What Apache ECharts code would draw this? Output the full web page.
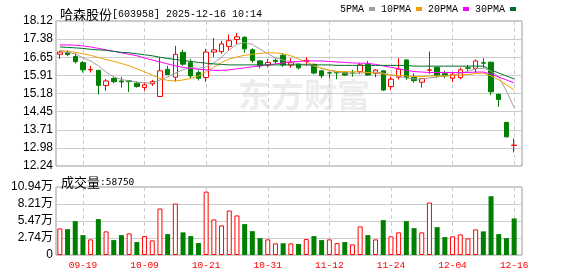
<!DOCTYPE html>
<html><head><meta charset="utf-8">
<script src="https://cdn.jsdelivr.net/npm/echarts@6/dist/echarts.min.js"></script>
<style>html,body{margin:0;padding:0;background:#fff}#c{width:578px;height:276px}</style>
</head><body><div id="c"></div>
<script>
const stockTitle = '哈森股份';
const stockInfo = '[603958] 2025-12-16 10:14';
const dates = ['09-16','09-17','09-18','09-19','09-22','09-23','09-24','09-25','09-26','09-29','09-30','10-09','10-10','10-13','10-14','10-15','10-16','10-17','10-20','10-21','10-22','10-23','10-24','10-27','10-28','10-29','10-30','10-31','11-03','11-04','11-05','11-06','11-07','11-10','11-11','11-12','11-13','11-14','11-17','11-18','11-19','11-20','11-21','11-24','11-25','11-26','11-27','11-28','12-01','12-02','12-03','12-04','12-05','12-08','12-09','12-10','12-11','12-12','12-15','12-16'];
const opens  = [16.77,16.84,16.68,16.43,16.14,16.12,15.50,15.79,15.69,15.70,15.60,15.42,15.57,15.06,16.16,15.84,16.85,16.43,16.03,15.83,16.86,16.88,17.09,17.37,17.46,16.95,16.50,16.33,16.52,16.73,16.33,16.37,16.48,16.36,16.10,16.02,16.03,16.04,16.01,16.07,16.36,16.00,16.10,15.46,15.84,16.54,15.84,15.64,16.12,16.24,15.98,15.80,15.82,16.22,16.20,16.43,16.45,15.15,14.01,13.07];
const closes = [16.86,16.76,16.47,16.14,16.15,15.51,15.69,15.66,15.65,15.66,15.46,15.53,15.67,16.10,15.95,16.77,16.37,15.89,15.80,16.86,16.95,17.19,17.32,17.48,16.99,16.52,16.30,16.44,16.48,16.34,16.43,16.22,16.53,16.01,15.90,16.01,16.02,15.93,16.00,16.34,15.93,16.13,15.32,15.76,16.17,15.82,15.70,15.79,16.14,15.92,15.90,15.96,16.14,16.20,16.50,16.41,15.25,14.94,13.42,13.09];
const lows   = [16.58,16.69,16.40,16.03,16.03,15.14,15.29,15.59,15.42,15.24,15.42,15.29,15.49,15.05,15.93,15.66,16.30,15.81,15.71,15.65,16.66,16.79,16.91,17.17,16.83,16.43,16.20,16.24,16.38,16.26,16.22,16.16,16.30,15.96,15.80,15.80,15.76,15.90,15.86,15.96,15.90,15.84,15.28,15.32,15.75,15.73,15.62,15.42,15.98,15.82,15.80,15.64,15.76,16.10,16.02,16.22,15.12,14.64,13.42,12.79];
const highs  = [16.91,16.93,16.81,16.50,16.30,16.14,15.77,15.87,15.85,15.71,15.65,15.63,15.73,16.66,16.30,17.11,16.95,16.57,16.12,16.99,17.43,17.32,17.57,17.63,17.50,17.02,16.54,16.58,16.60,16.79,16.61,16.42,16.66,16.40,16.14,16.07,16.08,16.07,16.14,16.41,16.50,16.17,16.12,15.86,16.61,16.57,16.00,15.80,16.88,16.27,16.10,16.04,16.23,16.34,16.56,16.61,16.47,15.17,14.01,13.36];
const volumes = [42800,41600,54500,32000,25100,57700,38000,24000,32000,34800,20800,30400,23500,74800,33600,82800,36400,30400,19200,102000,57200,47600,71600,63600,49700,38400,27200,25100,18700,18900,18700,17600,25600,30400,24000,25100,19200,20800,17100,46000,32000,25100,56100,30000,36400,54500,43200,36400,84400,44800,28800,30000,33200,26700,41200,38000,94500,33600,27200,58750];
const ma5  = [16.87,16.85,16.79,16.62,16.50,16.30,16.05,15.85,15.75,15.69,15.65,15.61,15.61,15.73,15.85,16.01,16.14,16.24,16.20,16.26,16.42,16.65,16.95,17.18,17.25,17.17,16.98,16.80,16.62,16.54,16.46,16.38,16.36,16.30,16.20,16.12,16.05,16.01,15.99,16.01,16.03,16.05,16.01,15.93,15.87,15.81,15.77,15.77,15.81,15.85,15.89,15.93,15.99,16.08,16.18,16.20,16.10,15.85,15.28,14.61];
const ma10 = [16.93,16.89,16.85,16.79,16.73,16.64,16.56,16.48,16.40,16.30,16.18,16.06,15.93,15.79,15.71,15.69,15.73,15.79,15.89,16.06,16.24,16.44,16.58,16.66,16.73,16.77,16.81,16.83,16.83,16.79,16.71,16.58,16.46,16.32,16.20,16.12,16.08,16.06,16.06,16.06,16.03,16.01,15.97,15.93,15.91,15.89,15.87,15.87,15.89,15.89,15.89,15.91,15.93,15.95,15.99,16.01,15.89,15.73,15.53,15.32];
const ma20 = [17.15,17.15,17.14,17.11,17.07,17.01,16.95,16.89,16.83,16.77,16.71,16.62,16.54,16.46,16.38,16.30,16.24,16.20,16.16,16.14,16.12,16.12,16.14,16.18,16.22,16.26,16.30,16.34,16.38,16.42,16.46,16.48,16.50,16.50,16.50,16.48,16.46,16.44,16.42,16.41,16.40,16.36,16.30,16.24,16.18,16.12,16.07,16.05,16.03,16.03,16.03,16.03,16.03,16.03,16.05,16.05,15.97,15.85,15.73,15.61];
const ma30 = [17.07,17.05,17.03,17.01,16.97,16.95,16.93,16.89,16.85,16.83,16.79,16.75,16.71,16.65,16.60,16.56,16.52,16.48,16.44,16.41,16.38,16.36,16.34,16.34,16.34,16.34,16.34,16.34,16.34,16.34,16.34,16.34,16.34,16.34,16.34,16.34,16.32,16.32,16.32,16.32,16.32,16.32,16.32,16.32,16.32,16.32,16.29,16.29,16.29,16.29,16.29,16.29,16.29,16.29,16.29,16.29,16.14,16.01,15.89,15.77];
const priceTicks = ['12.24','12.98','13.71','14.45','15.18','15.91','16.65','17.38','18.12'];
const volumeTicks = ['0','2.74万','5.47万','8.21万','10.94万'];
const dateTicks = ['09-19','10-09','10-21','10-31','11-12','11-24','12-04','12-16'];
const maNames = ['5PMA','10PMA','20PMA','30PMA'];

const RED = '#ff0000', GREEN = '#008000';
const maColors = ['#a0a0a0','#f0a000','#ff00ff','#006f2a'];
const MONO = 'Liberation Mono';

const candleData = dates.map((d, i) => [opens[i], closes[i], lows[i], highs[i]]);
const volData = volumes.map((v, i) => {
  const up = i === 0 ? closes[i] >= opens[i] : closes[i] >= closes[i - 1];
  return { value: v, itemStyle: up ? { color: '#fff', borderColor: RED, borderWidth: 1 } : { color: GREEN } };
});
const showDate = (idx, val) => dateTicks.includes(val);
const volMax = parseFloat(volumeTicks[volumeTicks.length - 1]) * 10000;

const chart = echarts.init(document.getElementById('c'), null, { renderer: 'canvas' });
const priceTop = 21, priceH = 145, volTop = 187, volH = 68;
const dataLeft = 59.85, dataRight = 578 - 514.15;

const frameYAxis = (gi, data) => ({
  gridIndex: gi, type: 'category', data: data, boundaryGap: false,
  axisLine: { show: false }, axisTick: { show: false },
  axisLabel: { interval: 0, color: '#000', fontSize: 12, fontFamily: 'Liberation Sans, Noto Sans CJK SC', margin: 3 },
  splitLine: { show: true, interval: 0, lineStyle: { color: '#cccccc', width: 1 } }
});

chart.setOption({
  animation: false,
  title: [
    { left: 55, top: 3, text: '{c|' + stockTitle + '}{a|' + stockInfo + '}',
      textStyle: { fontWeight: 'normal', rich: { c: { fontFamily: 'Noto Sans CJK SC', fontSize: 13, fontWeight: 'normal', color: '#000' }, a: { fontFamily: MONO, fontSize: 10, fontWeight: 'normal', color: '#000' } } } },
    { left: 56, top: 171, text: '{c|成交量}{a|:' + volumes[volumes.length - 1] + '}',
      textStyle: { fontWeight: 'normal', rich: { c: { fontFamily: 'Noto Sans CJK SC', fontSize: 13, fontWeight: 'normal', color: '#000' }, a: { fontFamily: 'DejaVu Sans Mono', fontSize: 9.5, fontWeight: 'normal', color: '#000' } } } }
  ],
  legend: {
    data: maNames, left: 340, top: 4, align: 'right', itemGap: 6, itemWidth: 6, itemHeight: 4,
    icon: 'rect', selectedMode: false, padding: 0,
    textStyle: { fontFamily: MONO, fontSize: 10, color: '#000' }
  },
  graphic: [{ type: 'text', left: 238, top: 78, z: -10, silent: true,
    style: { text: '东方财富', fontSize: 33, fontWeight: 'bold', fontFamily: 'Noto Sans CJK SC', fill: '#ededed' } }],
  grid: [
    { left: dataLeft, right: dataRight, top: priceTop, height: priceH },
    { left: dataLeft, right: dataRight, top: volTop, height: volH },
    { left: 56, right: 56, top: priceTop, height: priceH, show: true, borderColor: '#999', borderWidth: 1 },
    { left: 56, right: 56, top: volTop, height: volH, show: true, borderColor: '#999', borderWidth: 1 }
  ],
  xAxis: [
    { gridIndex: 0, type: 'category', data: dates, boundaryGap: false,
      axisLine: { show: false }, axisTick: { show: false }, axisLabel: { show: false },
      splitLine: { show: true, interval: showDate, lineStyle: { color: '#cccccc', type: [4, 3] } } },
    { gridIndex: 1, type: 'category', data: dates, boundaryGap: false,
      axisLine: { show: false }, axisTick: { show: false },
      axisLabel: { interval: showDate, color: RED, fontFamily: MONO, fontSize: 9.5, margin: 5 },
      splitLine: { show: true, interval: showDate, lineStyle: { color: '#cccccc', type: [4, 3] } } },
    { gridIndex: 2, type: 'value', show: false },
    { gridIndex: 3, type: 'value', show: false }
  ],
  yAxis: [
    { gridIndex: 0, type: 'value', min: parseFloat(priceTicks[0]), max: parseFloat(priceTicks[priceTicks.length - 1]), show: false, splitLine: { show: false } },
    { gridIndex: 1, type: 'value', min: 0, max: volMax, show: false, splitLine: { show: false } },
    frameYAxis(2, priceTicks),
    frameYAxis(3, volumeTicks)
  ],
  series: [
    { name: 'K', type: 'candlestick', xAxisIndex: 0, yAxisIndex: 0, data: candleData, barWidth: 5, silent: true,
      itemStyle: { color: '#ffffff', color0: GREEN, borderColor: RED, borderColor0: GREEN, borderWidth: 1 } },
    ...[ma5, ma10, ma20, ma30].map((arr, k) => ({
      name: maNames[k], type: 'line', xAxisIndex: 0, yAxisIndex: 0, data: arr, symbol: 'none', silent: true,
      itemStyle: { color: maColors[k] }, lineStyle: { color: maColors[k], width: 1 }
    })),
    { name: 'VOL', type: 'bar', xAxisIndex: 1, yAxisIndex: 1, data: volData, barWidth: 5, silent: true }
  ]
});
</script>
</body></html>
